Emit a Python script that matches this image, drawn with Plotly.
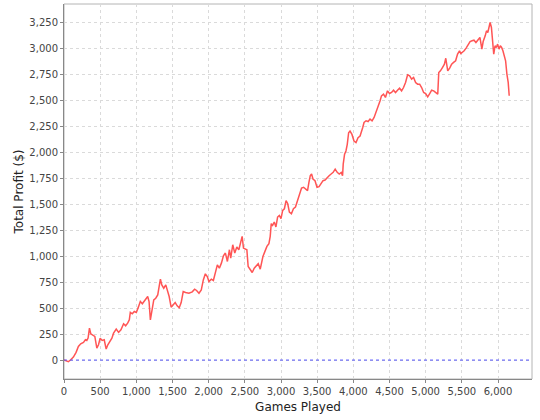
import plotly.graph_objects as go

games = [0, 60, 93, 130, 167, 199, 231, 269, 296, 315, 333, 352, 370, 398, 426, 454, 477, 500, 528, 556,
         583, 606, 630, 662, 685, 722, 755, 787, 824, 852, 880, 903, 917, 944, 972, 1000, 1028, 1055, 1083, 1111,
         1139, 1157, 1176, 1194, 1213, 1241, 1268, 1296, 1315, 1333, 1352, 1379, 1407, 1426, 1454, 1481, 1509, 1537, 1565, 1593,
         1620, 1648, 1681, 1727, 1773, 1806, 1833, 1866, 1898, 1926, 1954, 1981, 2004, 2037, 2065, 2093, 2120, 2148, 2176, 2204,
         2231, 2259, 2287, 2305, 2333, 2361, 2389, 2417, 2444, 2463, 2481, 2509, 2528, 2546, 2574, 2602, 2630, 2657, 2685, 2713,
         2731, 2750, 2778, 2805, 2833, 2851, 2865, 2884, 2907, 2930, 2953, 2977, 3000, 3023, 3047, 3070, 3093, 3116, 3144, 3172,
         3200, 3228, 3256, 3284, 3312, 3340, 3367, 3386, 3405, 3423, 3442, 3470, 3498, 3526, 3554, 3581, 3609, 3637, 3665, 3693,
         3721, 3749, 3777, 3805, 3833, 3851, 3860, 3879, 3898, 3916, 3935, 3954, 3981, 4009, 4037, 4065, 4093, 4130, 4148, 4176,
         4204, 4231, 4259, 4287, 4315, 4343, 4370, 4389, 4417, 4444, 4472, 4500, 4528, 4556, 4583, 4611, 4639, 4667, 4694, 4722,
         4750, 4778, 4806, 4833, 4861, 4889, 4917, 4944, 4972, 5000, 5028, 5056, 5083, 5111, 5139, 5167, 5181, 5204, 5232, 5259,
         5278, 5305, 5332, 5359, 5386, 5414, 5441, 5468, 5486, 5505, 5532, 5559, 5586, 5614, 5641, 5668, 5695, 5723, 5750, 5777,
         5795, 5823, 5841, 5859, 5877, 5891, 5909, 5923, 5941, 5959, 5977, 5995, 6014, 6032, 6050, 6068, 6086, 6105, 6123, 6141,
         6155]

profit = [0, -16, 3, 29, 74, 131, 157, 170, 195, 189, 211, 307, 253, 243, 227, 115, 147, 211, 189, 195,
          106, 147, 179, 211, 259, 298, 266, 291, 349, 330, 355, 387, 458, 445, 467, 458, 509, 563, 541, 573,
          595, 611, 563, 387, 483, 579, 595, 627, 707, 778, 723, 691, 723, 675, 611, 509, 531, 553, 522, 503,
          553, 659, 650, 643, 656, 682, 669, 643, 675, 771, 829, 803, 755, 778, 765, 842, 916, 884, 932, 1003,
          1029, 948, 1061, 980, 1109, 1029, 1087, 1061, 1141, 1189, 1077, 1067, 1061, 900, 868, 842, 884, 906, 926, 874,
          932, 996, 1045, 1093, 1119, 1190, 1312, 1296, 1328, 1280, 1375, 1391, 1360, 1439, 1455, 1534, 1503, 1423, 1407, 1455,
          1471, 1534, 1582, 1655, 1662, 1646, 1630, 1709, 1773, 1789, 1741, 1725, 1662, 1668, 1693, 1725, 1731, 1757, 1773, 1789,
          1805, 1836, 1805, 1789, 1805, 1773, 1884, 1979, 2011, 2075, 2186, 2202, 2170, 2107, 2091, 2139, 2154, 2237, 2285, 2301,
          2294, 2317, 2301, 2333, 2381, 2445, 2493, 2541, 2557, 2525, 2589, 2563, 2573, 2595, 2573, 2595, 2614, 2589, 2621, 2669,
          2742, 2733, 2701, 2717, 2669, 2653, 2653, 2621, 2573, 2563, 2531, 2563, 2595, 2589, 2573, 2557, 2765, 2781, 2813, 2845,
          2902, 2782, 2807, 2846, 2862, 2878, 2942, 2974, 2948, 2958, 2974, 3000, 3038, 3063, 3070, 3076, 3054, 3076, 3102, 2990,
          3063, 3118, 3166, 3150, 3230, 3246, 3198, 3102, 2942, 3022, 3006, 3038, 2990, 3022, 3006, 2974, 2910, 2878, 2750, 2670,
          2542]

x_range = [0, 6470]
y_range = [-182, 3424]

fig = go.Figure()
fig.add_trace(go.Scatter(x=games, y=profit, mode="lines",
                         line=dict(color="#FF5555", width=1.5), showlegend=False))
fig.add_hline(y=0, line=dict(color="#5555FF", width=1, dash="dot"))

axis_common = dict(
    showgrid=True, gridcolor="#DADADA", griddash="3px,3px", gridwidth=1,
    zeroline=False, showline=True, linecolor="#888888", linewidth=1,
    ticks="outside", ticklen=3, tickcolor="#888888",
    tickfont=dict(family="DejaVu Sans", size=10, color="#444444"),
    tickformat=",d", separatethousands=True,
)

fig.update_xaxes(range=x_range, dtick=500, tick0=0,
                 title=dict(text="Games Played", font=dict(family="DejaVu Sans", size=12, color="#222222"), standoff=6),
                 mirror=False, **axis_common)
fig.update_yaxes(range=y_range, dtick=250, tick0=0,
                 title=dict(text="Total Profit ($)", font=dict(family="DejaVu Sans", size=12, color="#222222"), standoff=3),
                 mirror=False, **axis_common)

# plot border top/right
fig.add_shape(type="rect", xref="paper", yref="paper", x0=0, y0=0, x1=1, y1=1,
              line=dict(color="#B4B4B4", width=1), layer="below")

fig.update_layout(width=540, height=420, margin=dict(l=64, r=8, t=4, b=41),
                  paper_bgcolor="white", plot_bgcolor="white")

fig.write_html("out.html", config={"displayModeBar": False},
               post_script="document.body.style.margin='0';")
